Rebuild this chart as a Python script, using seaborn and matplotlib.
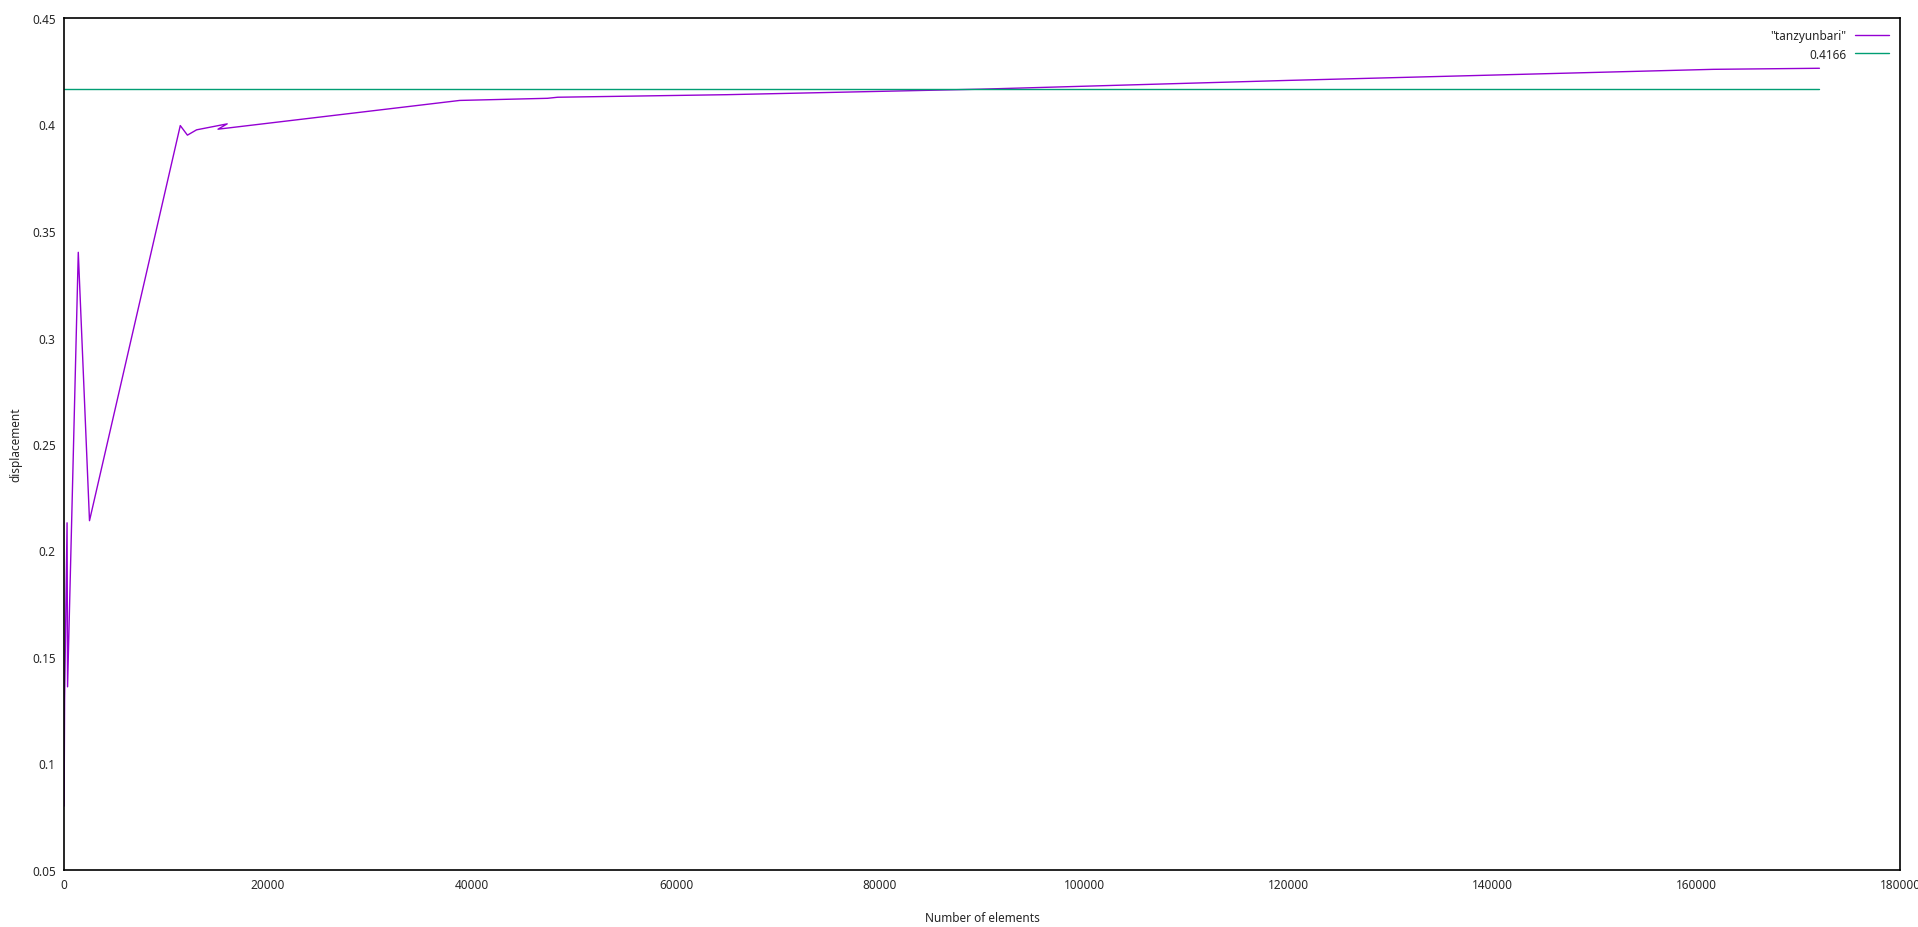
import numpy as np
import pandas as pd
import matplotlib
matplotlib.use("Agg")
import matplotlib.pyplot as plt
import seaborn as sns

# data
n_elements = [10, 60, 300, 350, 1400, 2500, 11400, 12100, 13000, 16000, 15100,
              38800, 47400, 48400, 65000, 90000, 120000, 161700, 172100]
displacement = [0.08, 0.13, 0.213, 0.136, 0.34, 0.214, 0.3995, 0.395, 0.3975,
                0.4003, 0.3978, 0.4113, 0.4123, 0.4128, 0.414, 0.4166, 0.4207,
                0.4259, 0.4264]
ref_x = [0, 172100]
ref_y = [0.4166, 0.4166]

df = pd.DataFrame({"x": n_elements, "y": displacement})
ref = pd.DataFrame({"x": ref_x, "y": ref_y})

sns.set_style("white")
plt.rcParams["font.family"] = ["Noto Sans", "DejaVu Sans"]

fig = plt.figure(figsize=(19.18, 9.28), dpi=100)
ax = fig.add_axes([64 / 1918, 57 / 928, 1836 / 1918, 852 / 928])

sns.lineplot(data=df, x="x", y="y", sort=False, estimator=None, ax=ax,
             color="#9400d3", linewidth=1.0, label='"tanzyunbari"')
sns.lineplot(data=ref, x="x", y="y", sort=False, estimator=None, ax=ax,
             color="#009e73", linewidth=1.0, label="0.4166")

ax.set_xlim(0, 180000)
ax.set_ylim(0.05, 0.45)
ax.set_xticks(np.arange(0, 180001, 20000))
ax.set_xticklabels([str(v) for v in range(0, 180001, 20000)])
yt = [0.05, 0.1, 0.15, 0.2, 0.25, 0.3, 0.35, 0.4, 0.45]
ax.set_yticks(yt)
ax.set_yticklabels(["%g" % v for v in yt])
ax.tick_params(direction="in", length=7, width=1, color="#555555",
               labelsize=8.5, pad=6)
for s in ax.spines.values():
    s.set_color("black")
    s.set_linewidth(1.2)

ax.set_xlabel("Number of elements", fontsize=8.5, labelpad=14)
ax.set_ylabel("displacement", fontsize=8.5, labelpad=7)

leg = ax.legend(loc="upper right", frameon=False, markerfirst=False,
                fontsize=8.5, handlelength=2.9, borderaxespad=0.55,
                labelspacing=0.45, handletextpad=0.7)

fig.savefig("out.png", dpi=100)
